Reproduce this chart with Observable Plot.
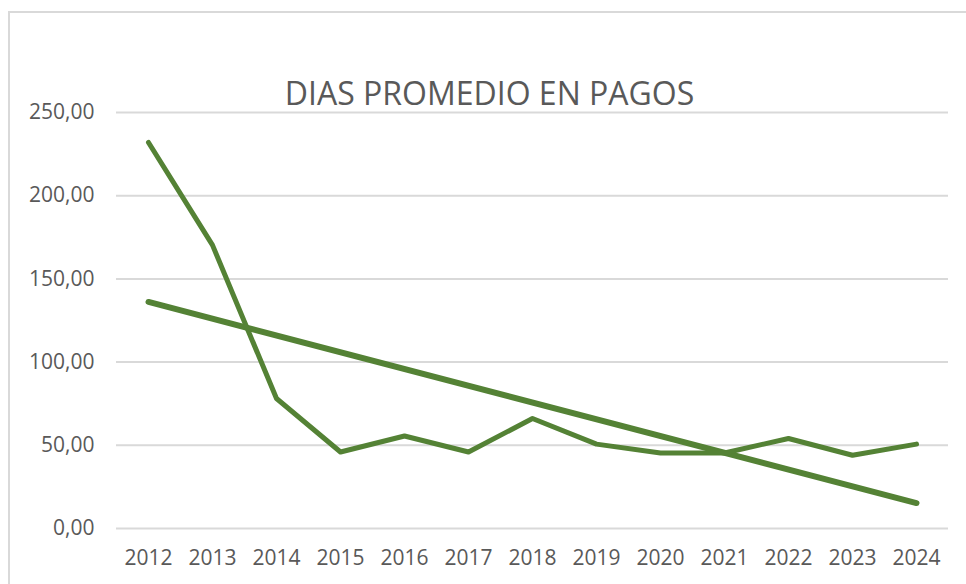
<!DOCTYPE html>
<html>
<head>
<meta charset="utf-8">
<script src="https://cdn.jsdelivr.net/npm/d3@7"></script>
<script src="https://cdn.jsdelivr.net/npm/@observablehq/plot@0.6"></script>
<style>
  html, body { margin: 0; padding: 0; background: #fff; overflow: hidden; }
  #wrap { position: relative; width: 966px; height: 584px; }
  #frame { position: absolute; left: 8px; top: 11px; width: 1200px; height: 800px;
           border-left: 2px solid #d9d9d9; border-top: 2px solid #d9d9d9; box-sizing: border-box; }
  #chart { position: absolute; left: 0; top: 0; }
</style>
</head>
<body>
<div id="wrap"><div id="frame"></div><div id="chart"></div></div>
<script>
const title = "DIAS PROMEDIO EN PAGOS";
const years = [2012, 2013, 2014, 2015, 2016, 2017, 2018, 2019, 2020, 2021, 2022, 2023, 2024];
const dias  = [232.0, 170.3, 78.1, 46.0, 55.6, 46.0, 66.1, 50.7, 45.4, 45.4, 54.1, 44.0, 50.7];
const yTicks = [0, 50, 100, 150, 200, 250];

const data = years.map((y, i) => ({year: y, dias: dias[i]}));
const green = "#548235";
const textColor = "#595959";
const fmt = d => d.toFixed(2).replace(".", ",");

const chart = Plot.plot({
  width: 966,
  height: 584,
  marginTop: 112,
  marginBottom: 56,
  marginLeft: 116,
  marginRight: 18,
  style: {fontFamily: "'Open Sans', sans-serif", fontSize: "21px", color: textColor, background: "transparent"},
  x: {domain: [2011.5, 2024.5], label: null},
  y: {domain: [0, 250], label: null},
  marks: [
    Plot.gridY(yTicks, {stroke: "#d9d9d9", strokeOpacity: 1, strokeWidth: 2}),
    Plot.axisX({ticks: years, tickFormat: d => String(d), tickSize: 0, tickPadding: 22, fill: textColor, label: null}),
    Plot.axisY({ticks: yTicks, tickFormat: fmt, tickSize: 0, tickPadding: 22, fill: textColor, label: null}),
    Plot.linearRegressionY(data, {x: "year", y: "dias", ci: 0, stroke: green, strokeWidth: 6, strokeLinecap: "round"}),
    Plot.lineY(data, {x: "year", y: "dias", stroke: green, strokeWidth: 5, strokeLinecap: "round", strokeLinejoin: "round"}),
    Plot.text([title], {frameAnchor: "top", dx: -43, dy: -8, lineAnchor: "bottom", text: d => d, fontSize: 32, fill: textColor, fontWeight: 400})
  ]
});
document.getElementById("chart").appendChild(chart);
</script>
</body>
</html>
